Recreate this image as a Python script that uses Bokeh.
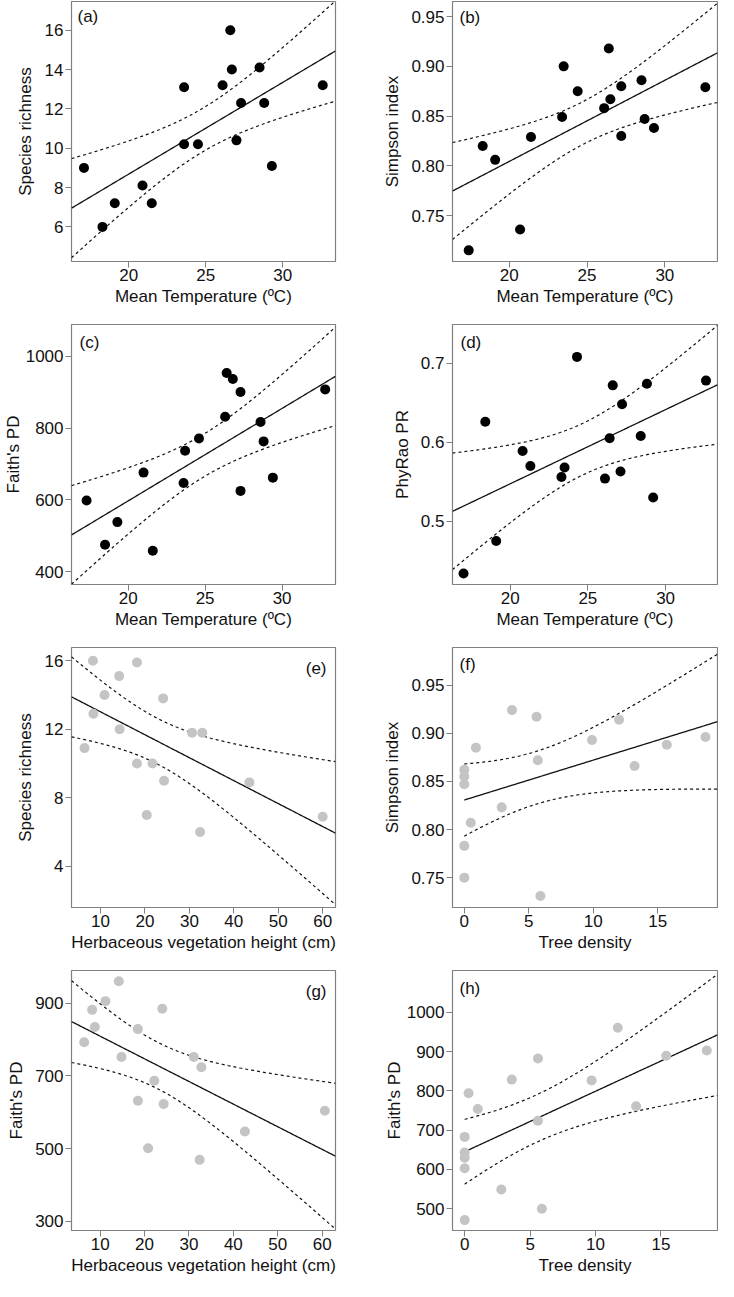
import numpy as np
from bokeh.plotting import figure
from bokeh.layouts import gridplot
from bokeh.models import FixedTicker, PrintfTickFormatter, Label, Range1d
from bokeh.embed import file_html
from bokeh.resources import INLINE

# ---------------- data ----------------
temp_a = [17.1, 18.3, 19.1, 20.9, 21.5, 23.6, 23.6, 24.5, 26.6, 26.1, 26.7, 27.3, 27.0, 28.5, 28.8, 29.3, 32.6]
richness_a = [9.0, 6.0, 7.2, 8.1, 7.2, 13.1, 10.2, 10.2, 16.0, 13.2, 14.0, 12.3, 10.4, 14.1, 12.3, 9.1, 13.2]

temp_b = [17.4, 18.3, 19.1, 20.7, 21.4, 23.5, 23.4, 24.4, 26.4, 26.1, 26.5, 27.2, 27.2, 28.5, 28.7, 29.3, 32.6]
simpson_b = [0.715, 0.820, 0.806, 0.736, 0.829, 0.900, 0.849, 0.875, 0.918, 0.858, 0.867, 0.880, 0.830, 0.886, 0.847, 0.838, 0.879]

temp_c = [17.3, 18.5, 19.3, 21.0, 21.6, 23.6, 23.7, 24.6, 26.4, 26.8, 27.3, 26.3, 27.3, 28.6, 28.8, 29.4, 32.8]
faith_c = [598, 475, 538, 676, 458, 647, 737, 771, 954, 937, 901, 832, 625, 817, 763, 662, 908]

temp_d = [17.0, 18.4, 19.1, 20.8, 21.3, 23.3, 23.5, 24.3, 26.1, 26.4, 26.6, 27.2, 27.1, 28.4, 28.8, 29.2, 32.6]
phyrao_d = [0.434, 0.626, 0.475, 0.589, 0.570, 0.556, 0.568, 0.708, 0.554, 0.605, 0.672, 0.648, 0.563, 0.608, 0.674, 0.530, 0.678]

herb_e = [6.4, 8.3, 8.4, 10.9, 14.2, 14.3, 18.2, 18.2, 20.4, 21.7, 24.1, 24.3, 30.6, 32.9, 32.4, 43.5, 60.0]
richness_e = [10.9, 16.0, 12.9, 14.0, 15.1, 12.0, 15.9, 10.0, 7.0, 10.0, 13.8, 9.0, 11.8, 11.8, 6.0, 8.9, 6.9]

tree_f = [0, 0, 0, 0, 0, 0.5, 0.9, 2.9, 3.7, 5.6, 5.7, 5.9, 9.9, 12.0, 13.2, 15.7, 18.7]
simpson_f = [0.862, 0.855, 0.847, 0.783, 0.750, 0.807, 0.885, 0.823, 0.924, 0.917, 0.872, 0.731, 0.893, 0.914, 0.866, 0.888, 0.896]

herb_g = [6.4, 8.2, 8.8, 11.2, 14.2, 14.8, 18.5, 18.5, 20.8, 22.2, 24.0, 24.3, 31.1, 32.8, 32.4, 42.6, 60.6]
faith_g = [793, 882, 835, 906, 961, 752, 829, 632, 501, 687, 885, 623, 752, 724, 469, 547, 604]

tree_h = [0, 0, 0, 0, 0, 0.3, 1.0, 2.8, 3.6, 5.6, 5.6, 5.9, 9.7, 11.7, 13.1, 15.4, 18.5]
faith_h = [471, 603, 630, 643, 683, 794, 754, 549, 829, 883, 724, 500, 827, 961, 761, 890, 903]

# tick values
temp_ticks = [20, 25, 30]
herb_ticks = [10, 20, 30, 40, 50, 60]
tree_ticks = [0, 5, 10, 15]
ticks_a = [6, 8, 10, 12, 14, 16]
ticks_simpson = [0.75, 0.80, 0.85, 0.90, 0.95]
ticks_c = [400, 600, 800, 1000]
ticks_d = [0.5, 0.6, 0.7]
ticks_e = [4, 8, 12, 16]
ticks_g = [300, 500, 700, 900]
ticks_h = [500, 600, 700, 800, 900, 1000]

XL_TEMP = "Mean Temperature (ºC)"
XL_HERB = "Herbaceous vegetation height (cm)"
XL_TREE = "Tree density"

# t quantile (0.975) by residual degrees of freedom
T975 = {15: 2.1314, 16: 2.1199, 17: 2.1098}

# ---------------- style / layout ----------------
FONT = "Liberation Sans"
FS = "17px"
FRAME_COL = "#808080"
BLACK_PT = "#000000"
GREY_PT = "#c4c4c4"
FRAME_W = 270
FRAME_H = 260
BOTTOM = 50
TOPS = [1, 13, 13, 13]
LEFT_B = [65, 67]
RIGHT_B = [45, 1]

panels = [
    dict(tag="(a)", x=temp_a, y=richness_a, c=BLACK_PT, xl=XL_TEMP, yl="Species richness",
         xt=temp_ticks, yt=ticks_a, xr=(16.29, 33.43), yr=(4.24, 17.46), fmt=None,
         side="left", off=(6, -5), fit0=None, ls=7),
    dict(tag="(b)", x=temp_b, y=simpson_b, c=BLACK_PT, xl=XL_TEMP, yl="Simpson index",
         xt=temp_ticks, yt=ticks_simpson, xr=(16.36, 33.38), yr=(0.7038, 0.9652), fmt="%.2f",
         side="left", off=(7, -6), fit0=None, ls=6),
    dict(tag="(c)", x=temp_c, y=faith_c, c=BLACK_PT, xl=XL_TEMP, yl="Faith's PD",
         xt=temp_ticks, yt=ticks_c, xr=(16.32, 33.47), yr=(364, 1089), fmt=None,
         side="left", off=(8, -8), fit0=None, ls=0),
    dict(tag="(d)", x=temp_d, y=phyrao_d, c=BLACK_PT, xl=XL_TEMP, yl="PhyRao PR",
         xt=temp_ticks, yt=ticks_d, xr=(16.29, 33.34), yr=(0.42, 0.749), fmt="%.1f",
         side="left", off=(8, -8), fit0=None, ls=6),
    dict(tag="(e)", x=herb_e, y=richness_e, c=GREY_PT, xl=XL_HERB, yl="Species richness",
         xt=herb_ticks, yt=ticks_e, xr=(3.47, 62.88), yr=(1.6, 16.77), fmt=None,
         side="right", off=(-9, -11), fit0=None, ls=7),
    dict(tag="(f)", x=tree_f, y=simpson_f, c=GREY_PT, xl=XL_TREE, yl="Simpson index",
         xt=tree_ticks, yt=ticks_simpson, xr=(-0.915, 19.63), yr=(0.719, 0.989), fmt="%.2f",
         side="left", off=(7, -7), fit0=0.0, ls=6),
    dict(tag="(g)", x=herb_g, y=faith_g, c=GREY_PT, xl=XL_HERB, yl="Faith's PD",
         xt=herb_ticks, yt=ticks_g, xr=(3.55, 63.0), yr=(274.5, 990.4), fmt=None,
         side="right", off=(-9, -11), fit0=None, ls=6),
    dict(tag="(h)", x=tree_h, y=faith_h, c=GREY_PT, xl=XL_TREE, yl="Faith's PD",
         xt=tree_ticks, yt=ticks_h, xr=(-0.93, 19.32), yr=(444.5, 1107), fmt=None,
         side="left", off=(7, -8), fit0=0.0, ls=0),
]


def fit_band(x, y, xs):
    x = np.asarray(x, dtype=float)
    y = np.asarray(y, dtype=float)
    n = len(x)
    b, a = np.polyfit(x, y, 1)
    res = y - (a + b * x)
    s = np.sqrt(np.sum(res ** 2) / (n - 2))
    sxx = np.sum((x - x.mean()) ** 2)
    pred = a + b * xs
    se = s * np.sqrt(1.0 / n + (xs - x.mean()) ** 2 / sxx)
    t = T975[n - 2]
    return pred, pred - t * se, pred + t * se


def style_axis(ax, standoff_label, standoff_tick):
    ax.axis_line_color = None
    ax.major_tick_line_color = FRAME_COL
    ax.major_tick_out = 6
    ax.major_tick_in = 0
    ax.minor_tick_line_color = None
    ax.major_label_text_font = FONT
    ax.major_label_text_font_size = FS
    ax.major_label_text_color = "#111111"
    ax.major_label_standoff = standoff_tick
    ax.axis_label_text_font = FONT
    ax.axis_label_text_font_size = FS
    ax.axis_label_text_font_style = "normal"
    ax.axis_label_text_color = "#111111"
    ax.axis_label_standoff = standoff_label


def make_panel(cfg, row, col):
    w = LEFT_B[col] + FRAME_W + RIGHT_B[col]
    h = TOPS[row] + FRAME_H + BOTTOM
    xr = Range1d(*cfg["xr"])
    yr = Range1d(*cfg["yr"])
    p = figure(width=w, height=h, x_range=xr, y_range=yr,
               output_backend="svg", toolbar_location=None,
               min_border_left=LEFT_B[col], min_border_right=RIGHT_B[col],
               min_border_top=TOPS[row], min_border_bottom=BOTTOM,
               x_axis_label=cfg["xl"], y_axis_label=cfg["yl"])
    p.xgrid.visible = False
    p.ygrid.visible = False
    p.outline_line_color = FRAME_COL
    p.outline_line_width = 1.2
    p.background_fill_color = "white"
    p.border_fill_color = "white"
    style_axis(p.xaxis[0], 3, 1)
    style_axis(p.yaxis[0], cfg["ls"], 2)
    p.xaxis[0].ticker = FixedTicker(ticks=cfg["xt"])
    p.yaxis[0].ticker = FixedTicker(ticks=cfg["yt"])
    if cfg["fmt"]:
        p.yaxis[0].formatter = PrintfTickFormatter(format=cfg["fmt"])

    x0 = cfg["xr"][0] if cfg["fit0"] is None else cfg["fit0"]
    xs = np.linspace(x0, cfg["xr"][1], 200)
    pred, lo, hi = fit_band(cfg["x"], cfg["y"], xs)
    p.line(xs, pred, line_color="#111111", line_width=1.3)
    p.line(xs, lo, line_color="#111111", line_width=1.2, line_dash="3 3")
    p.line(xs, hi, line_color="#111111", line_width=1.2, line_dash="3 3")
    p.scatter(cfg["x"], cfg["y"], size=10, fill_color=cfg["c"], line_color=None)

    if cfg["side"] == "left":
        lab = Label(x=cfg["xr"][0], y=cfg["yr"][1], x_offset=cfg["off"][0], y_offset=cfg["off"][1],
                    text=cfg["tag"], text_align="left", text_baseline="top")
    else:
        lab = Label(x=cfg["xr"][1], y=cfg["yr"][1], x_offset=cfg["off"][0], y_offset=cfg["off"][1],
                    text=cfg["tag"], text_align="right", text_baseline="top")
    lab.text_font = FONT
    lab.text_font_size = FS
    lab.text_color = "#111111"
    p.add_layout(lab)
    return p


rows = []
for r in range(4):
    rows.append([make_panel(panels[2 * r], r, 0), make_panel(panels[2 * r + 1], r, 1)])

grid = gridplot(rows, toolbar_location=None)

open("out.html", "w").write(file_html(grid, INLINE))
